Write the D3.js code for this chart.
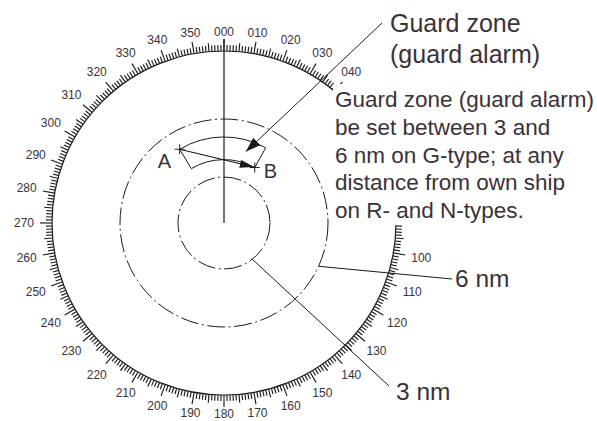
<!DOCTYPE html>
<html><head><meta charset="utf-8">
<script src="https://cdn.jsdelivr.net/npm/d3@7"></script>
<style>body{margin:0;background:#fff}svg{display:block}text{font-family:"Liberation Sans",Arial,Helvetica,sans-serif}</style>
</head><body>
<svg id="c" width="597" height="421"></svg>
<script>
// ---- data ----
const bearingLabels = ["000","010","020","030","040","050","060","070","080","090","100","110","120","130","140","150","160","170","180","190","200","210","220","230","240","250","260","270","280","290","300","310","320","330","340","350"];
const hiddenBearingLabels = ["050","060","070","080","090"]; // covered by the note in the reference
const rangeRingsNm = [3, 6];
const rangeRingLabels = ["3 nm", "6 nm"];
const rangeLabelBearings = [142, 114.6];
const guardBearings = [329, 29];     // start (A side) to end (B side)
const guardRangesNm = [3.9, 5.07];   // inner, outer
const guardTitle = ["Guard zone", "(guard alarm)"];
const guardNote = ["Guard zone (guard alarm)", "be set between 3 and", "6 nm on G-type; at any", "distance from own ship", "on R- and N-types."];
const pointLabels = ["A", "B"];

// ---- layout ----
const svg = d3.select("#c");
const cx = 224, cy = 223, ringR = 172;
const ink = "#1e1a1b", txt = "#3a3239";
const rScale = d3.scaleLinear().domain([0, 3, 6]).range([0, 46, 104]);
const rad = d => d * Math.PI / 180;
const polar = (b, r) => [cx + r * Math.sin(rad(b)), cy - r * Math.cos(rad(b))];

const g = svg.append("g");

// bearing scale ring
g.append("circle").attr("cx", cx).attr("cy", cy).attr("r", ringR)
  .attr("fill", "none").attr("stroke", ink).attr("stroke-width", 1.2);
const deg = d3.range(0, 360, 1);
g.selectAll("line.tick").data(deg).join("line").attr("class", "tick")
  .each(function(b) {
    const len = b % 10 === 0 ? 12 : (b % 5 === 0 ? 8.5 : 6);
    const p0 = polar(b, ringR), p1 = polar(b, ringR + len);
    d3.select(this).attr("x1", p0[0]).attr("y1", p0[1]).attr("x2", p1[0]).attr("y2", p1[1]);
  })
  .attr("stroke", ink).attr("stroke-width", 1.15);

const labScale = d3.scaleOrdinal().domain(bearingLabels).range(d3.range(0, 360, 10));
g.selectAll("text.blab").data(bearingLabels.filter(l => !hiddenBearingLabels.includes(l))).join("text").attr("class", "blab")
  .each(function(l) {
    const b = labScale(l);
    const r = 188 + Math.abs(Math.sin(rad(b))) * 12 + Math.abs(Math.cos(rad(b))) * 3;
    const p = polar(b, r);
    d3.select(this).attr("x", p[0]).attr("y", p[1] + 4.2);
  })
  .attr("text-anchor", "middle").attr("font-size", 12).attr("fill", txt).text(d => d);

// heading line
const hp = polar(0, 184);
g.append("line").attr("x1", cx).attr("y1", cy).attr("x2", hp[0]).attr("y2", hp[1])
  .attr("stroke", ink).attr("stroke-width", 1.2);

// range rings
g.selectAll("circle.rr").data(rangeRingsNm).join("circle").attr("class", "rr")
  .attr("cx", cx).attr("cy", cy).attr("r", d => rScale(d))
  .attr("fill", "none").attr("stroke", ink).attr("stroke-width", 1)
  .attr("stroke-dasharray", "18,3.5,2,3.5");

// guard zone sector
const arc = d3.arc().innerRadius(rScale(guardRangesNm[0])).outerRadius(rScale(guardRangesNm[1]))
  .startAngle(rad(guardBearings[0] - 360)).endAngle(rad(guardBearings[1]));
g.append("path").attr("d", arc()).attr("transform", `translate(${cx},${cy})`)
  .attr("fill", "none").attr("stroke", ink).attr("stroke-width", 1);

// markers
const defs = svg.append("defs");
defs.append("marker").attr("id", "ah").attr("viewBox", "0 0 14 8").attr("refX", 14).attr("refY", 4)
  .attr("markerWidth", 14).attr("markerHeight", 8).attr("markerUnits", "userSpaceOnUse").attr("orient", "auto")
  .append("path").attr("d", "M0,0 L14,4 L0,8 Z").attr("fill", ink);
defs.append("marker").attr("id", "ah2").attr("viewBox", "0 0 15 10").attr("refX", 15).attr("refY", 5)
  .attr("markerWidth", 15).attr("markerHeight", 10).attr("markerUnits", "userSpaceOnUse").attr("orient", "auto")
  .append("path").attr("d", "M0,0 L15,5 L0,10 Z").attr("fill", ink);

// A and B points
const pA = polar(guardBearings[0], rScale(guardRangesNm[1]));
const pB = polar(guardBearings[1], rScale(guardRangesNm[0]));
g.append("line").attr("x1", pA[0]).attr("y1", pA[1]).attr("x2", pB[0] - 1).attr("y2", pB[1] - 0.5)
  .attr("stroke", ink).attr("stroke-width", 1.1).attr("marker-end", "url(#ah)");
[pA, pB].forEach(p => {
  g.append("path").attr("d", `M${p[0]-5},${p[1]}H${p[0]+5}M${p[0]},${p[1]-5}V${p[1]+5}`)
    .attr("stroke", ink).attr("stroke-width", 1);
});
g.append("text").attr("x", pA[0] - 22).attr("y", pA[1] + 19).attr("font-size", 20).attr("fill", txt).text(pointLabels[0]);
g.append("text").attr("x", pB[0] + 9).attr("y", pB[1] + 10).attr("font-size", 20).attr("fill", txt).text(pointLabels[1]);

// guard zone title leader
const tip = polar(17, 74.5);
g.append("line").attr("x1", 382).attr("y1", 23).attr("x2", tip[0]).attr("y2", tip[1])
  .attr("stroke", ink).attr("stroke-width", 1).attr("marker-end", "url(#ah2)");

// white box behind note
g.append("rect").attr("x", 333).attr("y", 84).attr("width", 264).attr("height", 141).attr("fill", "#fff");

g.append("text").attr("font-size", 25).attr("fill", txt)
  .selectAll("tspan").data(guardTitle).join("tspan")
  .attr("x", 390).attr("y", (d, i) => 32 + i * 31).text(d => d);

g.append("text").attr("font-size", 22.5).attr("fill", txt)
  .selectAll("tspan").data(guardNote).join("tspan")
  .attr("x", 335).attr("y", (d, i) => 107 + i * 27.8).text(d => d);

// range ring labels with leaders
const labelPos = [[396, 400], [455, 287]];
const leaderEnd = [[389, 386], [452, 279]];
rangeRingsNm.forEach((nm, i) => {
  const p = polar(rangeLabelBearings[i], rScale(nm));
  g.append("line").attr("x1", p[0]).attr("y1", p[1]).attr("x2", leaderEnd[i][0]).attr("y2", leaderEnd[i][1])
    .attr("stroke", ink).attr("stroke-width", 1);
  g.append("text").attr("x", labelPos[i][0]).attr("y", labelPos[i][1]).attr("font-size", 24.5)
    .attr("fill", txt).text(rangeRingLabels[i]);
});
</script>
</body></html>
